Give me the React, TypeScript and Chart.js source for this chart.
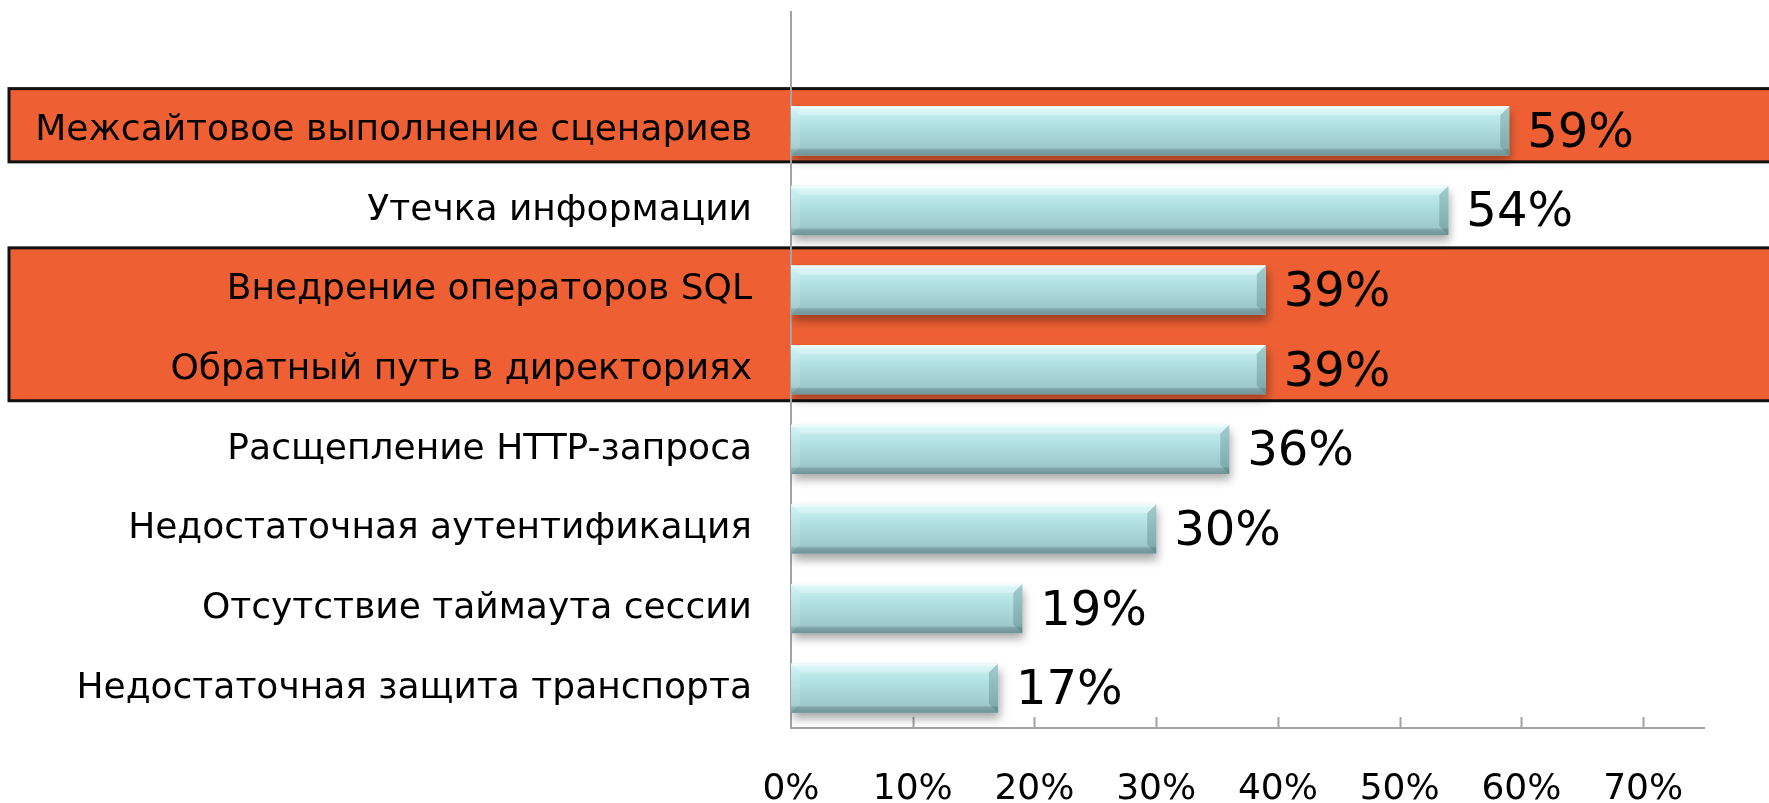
import React, { useEffect, useRef } from 'react';
import { Chart, registerables } from 'chart.js';

Chart.register(...registerables);

const categories = [
  'Межсайтовое выполнение сценариев',
  'Утечка информации',
  'Внедрение операторов SQL',
  'Обратный путь в директориях',
  'Расщепление HTTP-запроса',
  'Недостаточная аутентификация',
  'Отсутствие таймаута сессии',
  'Недостаточная защита транспорта',
];

const values = [59, 54, 39, 39, 36, 30, 19, 17];

const axisMin = 0;
const axisMax = 75;
const tickStep = 10;

// groups of category indices that are highlighted with an orange band
const highlightedGroups = [[0], [2, 3]];

const FONT = "'DejaVu Sans', Verdana, sans-serif";
const ORANGE = '#EE6034';
const AXIS_GRAY = '#A3A3A3';

const bandsPlugin = {
  id: 'bands',
  beforeDraw(chart: any) {
    const { ctx, scales } = chart;
    const y = scales.y;
    const step = y.getPixelForValue(1) - y.getPixelForValue(0);
    ctx.save();
    highlightedGroups.forEach((g) => {
      const top = y.getPixelForValue(g[0]) - 0.53 * step;
      const bottom = y.getPixelForValue(g[g.length - 1]) + 0.39 * step;
      ctx.fillStyle = ORANGE;
      ctx.fillRect(9, top, chart.width + 20, bottom - top);
      ctx.strokeStyle = '#111';
      ctx.lineWidth = 3;
      ctx.strokeRect(9, top, chart.width + 20, bottom - top);
    });
    ctx.restore();
  },
};

function poly(ctx: CanvasRenderingContext2D, pts: number[][], fill: string) {
  ctx.beginPath();
  ctx.moveTo(pts[0][0], pts[0][1]);
  for (let i = 1; i < pts.length; i++) ctx.lineTo(pts[i][0], pts[i][1]);
  ctx.closePath();
  ctx.fillStyle = fill;
  ctx.fill();
}

const barStylePlugin = {
  id: 'barStyle',
  beforeDatasetsDraw(chart: any) {
    const { ctx, chartArea, scales } = chart;
    // axis extension above plot area and inward tick marks
    ctx.save();
    ctx.strokeStyle = AXIS_GRAY;
    ctx.lineWidth = 2;
    ctx.beginPath();
    ctx.moveTo(chartArea.left, 11);
    ctx.lineTo(chartArea.left, chartArea.top);
    const xs = scales.x;
    xs.ticks.forEach((t: any) => {
      if (t.value <= 0) return;
      const px = Math.round(xs.getPixelForValue(t.value)) + 0.5;
      ctx.moveTo(px, chartArea.bottom);
      ctx.lineTo(px, chartArea.bottom - 11);
    });
    ctx.stroke();
    ctx.restore();

    ctx.save();
    ctx.shadowColor = 'rgba(0,0,0,0.35)';
    ctx.shadowBlur = 9;
    ctx.shadowOffsetX = 2;
    ctx.shadowOffsetY = 6;
  },
  afterDatasetsDraw(chart: any) {
    const { ctx } = chart;
    ctx.restore();
    const meta = chart.getDatasetMeta(0);
    meta.data.forEach((el: any, i: number) => {
      const { x, y, base, height } = el.getProps(['x', 'y', 'base', 'height'], true);
      const l = Math.min(base, x);
      const r = Math.max(base, x);
      const t = y - height / 2;
      const b = y + height / 2;
      ctx.save();
      const g = ctx.createLinearGradient(0, t, 0, b);
      g.addColorStop(0, '#F4FEFF');
      g.addColorStop(0.08, '#C8F0F2');
      g.addColorStop(0.4, '#B1E0E2');
      g.addColorStop(0.85, '#9CC8CB');
      g.addColorStop(0.89, '#7FA5A8');
      g.addColorStop(1, '#6F9497');
      ctx.fillStyle = g;
      ctx.fillRect(l, t, r - l, b - t);
      const bv = 9;
      poly(ctx, [[l, t], [r, t], [r - bv, t + bv], [l + bv, t + bv]], 'rgba(255,255,255,0.3)');
      poly(ctx, [[r, t], [r, b], [r - bv, b - bv], [r - bv, t + bv]], 'rgba(60,100,105,0.28)');
      poly(ctx, [[l, t], [l + bv, t + bv], [l + bv, b - bv], [l, b]], 'rgba(255,255,255,0.12)');

      ctx.font = `48px ${FONT}`;
      ctx.fillStyle = '#000';
      ctx.textAlign = 'left';
      ctx.textBaseline = 'alphabetic';
      ctx.fillText(values[i] + '%', r + 18, y + 16);
      ctx.restore();
    });
  },
};

export default function App() {
  const ref = useRef<HTMLCanvasElement>(null);
  useEffect(() => {
    const canvas = ref.current!;
    const chart = new Chart(canvas, {
      type: 'bar',
      data: {
        labels: categories,
        datasets: [
          {
            data: values,
            backgroundColor: '#AEDDE0',
            borderWidth: 0,
            barPercentage: 0.62,
            categoryPercentage: 1,
          },
        ],
      },
      options: {
        indexAxis: 'y',
        animation: false,
        responsive: false,
        maintainAspectRatio: false,
        layout: { padding: { top: 91, right: 65, left: 0, bottom: 0 } },
        plugins: { legend: { display: false }, tooltip: { enabled: false } },
        scales: {
          x: {
            min: axisMin,
            max: axisMax,
            ticks: {
              stepSize: tickStep,
              includeBounds: false,
              autoSkip: false,
              maxRotation: 0,
              padding: 40,
              color: '#000',
              font: { family: FONT, size: 36 },
              callback: (v: any) => v + '%',
            },
            grid: { display: false, drawTicks: false },
            border: { display: true, color: AXIS_GRAY, width: 2 },
            afterFit: (s: any) => {
              s.height = 75;
            },
          },
          y: {
            ticks: {
              padding: 39,
              color: '#000',
              font: { family: FONT, size: 36 },
              autoSkip: false,
            },
            grid: { display: false, drawTicks: false },
            border: { display: true, color: AXIS_GRAY, width: 2 },
            afterFit: (s: any) => {
              s.width = 791;
            },
          },
        },
      },
      plugins: [bandsPlugin, barStylePlugin],
    });
    return () => chart.destroy();
  }, []);
  return (
    <div style={{ position: 'fixed', left: 0, top: 0, width: 1769, height: 803, background: '#fff' }}>
      <canvas ref={ref} width={1769} height={803} style={{ width: 1769, height: 803, display: 'block' }} />
    </div>
  );
}
